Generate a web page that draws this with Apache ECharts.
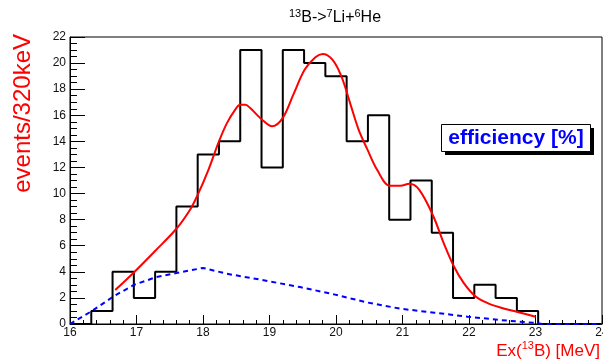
<!DOCTYPE html>
<html>
<head>
<meta charset="utf-8">
<script src="https://cdn.jsdelivr.net/npm/echarts@6/dist/echarts.min.js"></script>
<style>
html,body{margin:0;padding:0;background:#fff;}
#chart{width:603px;height:363px;}
</style>
</head>
<body>
<div id="chart"></div>
<script>
// Histogram: 25 bins of 0.32 MeV starting at 16 MeV
var binStart = 16.0;
var binWidth = 0.32;
var histCounts = [0, 1, 4, 2, 4, 9, 13, 14, 21, 12, 21, 20, 19, 14, 16, 8, 11, 7, 2, 3, 2, 1, 0, 0, 0];

// Fit curve (red)
var fitX = [16.68, 16.96, 17.28, 17.6, 17.81, 17.92, 18.08, 18.24, 18.36, 18.48, 18.56, 18.64, 18.71, 18.88, 19.04, 19.2, 19.36, 19.53, 19.69, 19.8, 19.94, 20.08, 20.22, 20.34, 20.47, 20.62, 20.81, 20.97, 21.1, 21.25, 21.46, 21.62, 21.77, 21.92, 22.09, 22.28, 22.48, 22.73, 23.0];
var fitY = [2.6, 3.95, 5.6, 7.3, 8.8, 9.9, 11.8, 14.0, 15.4, 16.4, 16.8, 16.8, 16.55, 15.7, 15.15, 15.8, 17.6, 19.5, 20.45, 20.7, 20.3, 19.0, 16.8, 14.9, 13.4, 11.8, 10.6, 10.6, 10.75, 10.3, 8.3, 6.2, 4.45, 3.15, 2.15, 1.6, 1.25, 0.92, 0.56];

// Efficiency curve (blue dashed)
var effX = [16.0, 16.33, 16.65, 16.96, 17.3, 17.6, 18.0, 18.36, 18.86, 19.46, 19.97, 20.47, 20.97, 21.48, 21.98, 22.48, 23.0, 23.1, 24.0];
var effY = [0, 1.0, 2.1, 3.0, 3.6, 3.9, 4.3, 3.85, 3.4, 2.83, 2.27, 1.65, 1.17, 0.87, 0.56, 0.3, 0.08, 0, 0];

// Axis ticks
var xMin = 16, xMax = 24, xStep = 1;
var yMin = 0, yMax = 22, yStep = 2;

var histData = [];
for (var i = 0; i < histCounts.length; i++) {
  var lo = binStart + i * binWidth, hi = binStart + (i + 1) * binWidth;
  histData.push([lo, histCounts[i]]);
  histData.push([hi, histCounts[i]]);
}
var fitData = fitX.map(function (x, i) { return [x, fitY[i]]; });
var effData = effX.map(function (x, i) { return [x, effY[i]]; });

var FONT = 'Liberation Sans, Arial, sans-serif';
var chart = echarts.init(document.getElementById('chart'), null, {renderer: 'canvas'});
chart.setOption({
  animation: false,
  backgroundColor: '#fff',
  title: [{
    text: '{s|13}B->{s|7}Li+{s|6}He',
    left: 284, top: 3,
    textStyle: {
      fontFamily: FONT, fontSize: 16, fontWeight: 'normal', color: '#000', lineHeight: 20,
      rich: { s: { fontFamily: FONT, fontSize: 11, lineHeight: 11, verticalAlign: 'top', color: '#000' } }
    }
  }],
  grid: { left: 70, right: 1, top: 37, bottom: 39, show: true, borderColor: '#000', borderWidth: 1, containLabel: false, outerBoundsMode: 'none' },
  xAxis: {
    type: 'value', min: xMin, max: xMax, interval: xStep,
    axisLine: { lineStyle: { color: '#000', width: 1 } },
    axisTick: { inside: true, length: 9, lineStyle: { color: '#000' } },
    minorTick: { show: true, splitNumber: 5, length: 4, lineStyle: { color: '#000' } },
    axisLabel: { margin: 3, color: '#111', fontSize: 12, fontFamily: FONT, hideOverlap: false },
    splitLine: { show: false }
  },
  yAxis: {
    type: 'value', min: yMin, max: yMax, interval: yStep,
    axisLine: { show: true, lineStyle: { color: '#000', width: 1 } },
    axisTick: { show: true, inside: true, length: 15, lineStyle: { color: '#000' } },
    minorTick: { show: true, splitNumber: 4, length: 7, lineStyle: { color: '#000' } },
    axisLabel: { margin: 4, color: '#111', fontSize: 12, fontFamily: FONT },
    splitLine: { show: false }
  },
  graphic: [{
    type: 'text', x: 23, y: 34, rotation: Math.PI / 2,
    style: { text: 'events/320keV', fill: '#ff0000', font: '24px ' + FONT, align: 'right', verticalAlign: 'middle' }
  }, {
    type: 'text', x: 600, y: 350,
    style: {
      text: '{a|Ex(}{s|13}{a|B) [MeV]}', align: 'right', verticalAlign: 'middle',
      rich: {
        a: { fontFamily: FONT, fontSize: 17, lineHeight: 20, verticalAlign: 'bottom', fill: '#ff0000' },
        s: { fontFamily: FONT, fontSize: 11, lineHeight: 11, verticalAlign: 'top', fill: '#ff0000' }
      }
    }
  }, {
    type: 'group', z: 100,
    children: [{
      type: 'rect', shape: { x: 445, y: 128, width: 149, height: 27 },
      style: { fill: '#000' }
    }, {
      type: 'rect', shape: { x: 441.5, y: 124.5, width: 149, height: 27 },
      style: { fill: '#fff', stroke: '#000', lineWidth: 1 }
    }, {
      type: 'text', x: 516, y: 138.5,
      style: { text: 'efficiency [%]', fill: '#0000ff', font: 'bold 21px ' + FONT, align: 'center', verticalAlign: 'middle' }
    }]
  }],
  series: [{
    type: 'line', data: histData, symbol: 'none',
    lineStyle: { color: '#000', width: 2 }, z: 2
  }, {
    type: 'line', data: fitData, symbol: 'none', smooth: 0.35,
    lineStyle: { color: '#ff0000', width: 2 }, z: 3
  }, {
    type: 'line', data: effData, symbol: 'none',
    lineStyle: { color: '#0000ff', width: 2, type: [5, 4] }, z: 4
  }]
});
</script>
</body>
</html>
